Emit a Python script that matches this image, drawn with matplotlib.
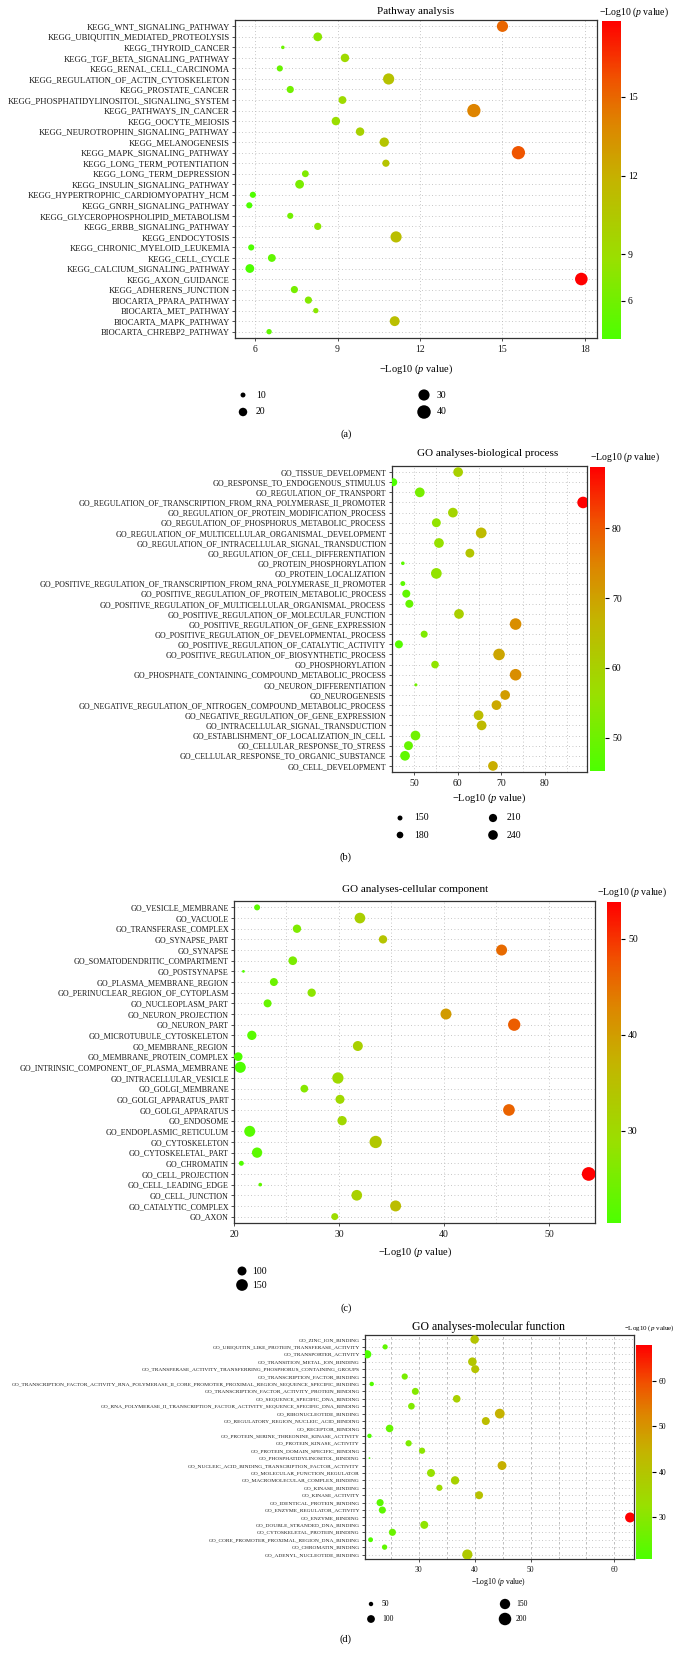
import numpy as np
import matplotlib.pyplot as plt
from matplotlib.colors import LinearSegmentedColormap, Normalize
from matplotlib.cm import ScalarMappable

plt.rcParams['font.family'] = ['Liberation Serif', 'DejaVu Serif']
plt.rcParams['mathtext.fontset'] = 'custom'
plt.rcParams['mathtext.rm'] = 'Liberation Serif'
plt.rcParams['mathtext.it'] = 'Liberation Serif:italic'

# (a) pathway analysis
kegg_terms = ['KEGG_WNT_SIGNALING_PATHWAY', 'KEGG_UBIQUITIN_MEDIATED_PROTEOLYSIS', 'KEGG_THYROID_CANCER',
              'KEGG_TGF_BETA_SIGNALING_PATHWAY', 'KEGG_RENAL_CELL_CARCINOMA', 'KEGG_REGULATION_OF_ACTIN_CYTOSKELETON',
              'KEGG_PROSTATE_CANCER', 'KEGG_PHOSPHATIDYLINOSITOL_SIGNALING_SYSTEM', 'KEGG_PATHWAYS_IN_CANCER',
              'KEGG_OOCYTE_MEIOSIS', 'KEGG_NEUROTROPHIN_SIGNALING_PATHWAY', 'KEGG_MELANOGENESIS',
              'KEGG_MAPK_SIGNALING_PATHWAY', 'KEGG_LONG_TERM_POTENTIATION', 'KEGG_LONG_TERM_DEPRESSION',
              'KEGG_INSULIN_SIGNALING_PATHWAY', 'KEGG_HYPERTROPHIC_CARDIOMYOPATHY_HCM', 'KEGG_GNRH_SIGNALING_PATHWAY',
              'KEGG_GLYCEROPHOSPHOLIPID_METABOLISM', 'KEGG_ERBB_SIGNALING_PATHWAY', 'KEGG_ENDOCYTOSIS',
              'KEGG_CHRONIC_MYELOID_LEUKEMIA', 'KEGG_CELL_CYCLE', 'KEGG_CALCIUM_SIGNALING_PATHWAY',
              'KEGG_AXON_GUIDANCE', 'KEGG_ADHERENS_JUNCTION', 'BIOCARTA_PPARA_PATHWAY', 'BIOCARTA_MET_PATHWAY',
              'BIOCARTA_MAPK_PATHWAY', 'BIOCARTA_CHREBP2_PATHWAY']
kegg_logp = [15.0, 8.28, 7.01, 9.27, 6.90, 10.86, 7.28, 9.18, 13.96, 8.94, 9.82, 10.70, 15.58, 10.76, 7.83,
             7.62, 5.92, 5.79, 7.28, 8.28, 11.13, 5.86, 6.61, 5.81, 17.87, 7.43, 7.94, 8.21, 11.08, 6.51]
kegg_count = [30, 21, 7, 20, 13, 30, 16, 18, 39, 20, 20, 23, 39, 16, 15,
              21, 13, 13, 13, 16, 30, 13, 18, 21, 36, 16, 16, 11, 25, 11]
kegg_legend = [10, 20, 30, 40]

# (b) biological process
bp_terms = ['GO_TISSUE_DEVELOPMENT', 'GO_RESPONSE_TO_ENDOGENOUS_STIMULUS', 'GO_REGULATION_OF_TRANSPORT',
            'GO_REGULATION_OF_TRANSCRIPTION_FROM_RNA_POLYMERASE_II_PROMOTER',
            'GO_REGULATION_OF_PROTEIN_MODIFICATION_PROCESS', 'GO_REGULATION_OF_PHOSPHORUS_METABOLIC_PROCESS',
            'GO_REGULATION_OF_MULTICELLULAR_ORGANISMAL_DEVELOPMENT',
            'GO_REGULATION_OF_INTRACELLULAR_SIGNAL_TRANSDUCTION', 'GO_REGULATION_OF_CELL_DIFFERENTIATION',
            'GO_PROTEIN_PHOSPHORYLATION', 'GO_PROTEIN_LOCALIZATION',
            'GO_POSITIVE_REGULATION_OF_TRANSCRIPTION_FROM_RNA_POLYMERASE_II_PROMOTER',
            'GO_POSITIVE_REGULATION_OF_PROTEIN_METABOLIC_PROCESS',
            'GO_POSITIVE_REGULATION_OF_MULTICELLULAR_ORGANISMAL_PROCESS',
            'GO_POSITIVE_REGULATION_OF_MOLECULAR_FUNCTION', 'GO_POSITIVE_REGULATION_OF_GENE_EXPRESSION',
            'GO_POSITIVE_REGULATION_OF_DEVELOPMENTAL_PROCESS', 'GO_POSITIVE_REGULATION_OF_CATALYTIC_ACTIVITY',
            'GO_POSITIVE_REGULATION_OF_BIOSYNTHETIC_PROCESS', 'GO_PHOSPHORYLATION',
            'GO_PHOSPHATE_CONTAINING_COMPOUND_METABOLIC_PROCESS', 'GO_NEURON_DIFFERENTIATION', 'GO_NEUROGENESIS',
            'GO_NEGATIVE_REGULATION_OF_NITROGEN_COMPOUND_METABOLIC_PROCESS',
            'GO_NEGATIVE_REGULATION_OF_GENE_EXPRESSION', 'GO_INTRACELLULAR_SIGNAL_TRANSDUCTION',
            'GO_ESTABLISHMENT_OF_LOCALIZATION_IN_CELL', 'GO_CELLULAR_RESPONSE_TO_STRESS',
            'GO_CELLULAR_RESPONSE_TO_ORGANIC_SUBSTANCE', 'GO_CELL_DEVELOPMENT']
bp_logp = [60.1, 45.2, 51.3, 88.8, 58.9, 55.1, 65.4, 55.7, 62.8, 47.4, 55.1, 47.4, 48.2, 48.9, 60.3,
           73.3, 52.3, 46.5, 69.5, 54.8, 73.3, 50.4, 70.9, 68.9, 64.8, 65.5, 50.3, 48.7, 47.9, 68.1]
bp_count = [241, 206, 241, 283, 241, 224, 263, 241, 224, 128, 263, 149, 206, 206, 241,
            283, 188, 206, 283, 198, 283, 120, 241, 241, 241, 241, 241, 224, 241, 241]
bp_legend = [150, 180, 210, 240]

# (c) cellular component
cc_terms = ['GO_VESICLE_MEMBRANE', 'GO_VACUOLE', 'GO_TRANSFERASE_COMPLEX', 'GO_SYNAPSE_PART', 'GO_SYNAPSE',
            'GO_SOMATODENDRITIC_COMPARTMENT', 'GO_POSTSYNAPSE', 'GO_PLASMA_MEMBRANE_REGION',
            'GO_PERINUCLEAR_REGION_OF_CYTOPLASM', 'GO_NUCLEOPLASM_PART', 'GO_NEURON_PROJECTION', 'GO_NEURON_PART',
            'GO_MICROTUBULE_CYTOSKELETON', 'GO_MEMBRANE_REGION', 'GO_MEMBRANE_PROTEIN_COMPLEX',
            'GO_INTRINSIC_COMPONENT_OF_PLASMA_MEMBRANE', 'GO_INTRACELLULAR_VESICLE', 'GO_GOLGI_MEMBRANE',
            'GO_GOLGI_APPARATUS_PART', 'GO_GOLGI_APPARATUS', 'GO_ENDOSOME', 'GO_ENDOPLASMIC_RETICULUM',
            'GO_CYTOSKELETON', 'GO_CYTOSKELETAL_PART', 'GO_CHROMATIN', 'GO_CELL_PROJECTION', 'GO_CELL_LEADING_EDGE',
            'GO_CELL_JUNCTION', 'GO_CATALYTIC_COMPLEX', 'GO_AXON']
cc_logp = [22.2, 32.0, 26.0, 34.2, 45.5, 25.6, 20.9, 23.8, 27.4, 23.2, 40.2, 46.7, 21.7, 31.8, 20.4,
           20.6, 29.9, 26.7, 30.1, 46.2, 30.3, 21.5, 33.5, 22.2, 20.7, 53.8, 22.5, 31.7, 35.4, 29.6]
cc_count = [56, 130, 89, 89, 136, 95, 23, 84, 89, 84, 136, 163, 105, 117, 95,
            136, 142, 80, 100, 150, 105, 136, 163, 123, 44, 194, 31, 130, 136, 69]
cc_legend = [100, 150]

# (d) molecular function
mf_terms = ['GO_ZINC_ION_BINDING', 'GO_UBIQUITIN_LIKE_PROTEIN_TRANSFERASE_ACTIVITY', 'GO_TRANSPORTER_ACTIVITY',
            'GO_TRANSITION_METAL_ION_BINDING', 'GO_TRANSFERASE_ACTIVITY_TRANSFERRING_PHOSPHORUS_CONTAINING_GROUPS',
            'GO_TRANSCRIPTION_FACTOR_BINDING',
            'GO_TRANSCRIPTION_FACTOR_ACTIVITY_RNA_POLYMERASE_II_CORE_PROMOTER_PROXIMAL_REGION_SEQUENCE_SPECIFIC_BINDING',
            'GO_TRANSCRIPTION_FACTOR_ACTIVITY_PROTEIN_BINDING', 'GO_SEQUENCE_SPECIFIC_DNA_BINDING',
            'GO_RNA_POLYMERASE_II_TRANSCRIPTION_FACTOR_ACTIVITY_SEQUENCE_SPECIFIC_DNA_BINDING',
            'GO_RIBONUCLEOTIDE_BINDING', 'GO_REGULATORY_REGION_NUCLEIC_ACID_BINDING', 'GO_RECEPTOR_BINDING',
            'GO_PROTEIN_SERINE_THREONINE_KINASE_ACTIVITY', 'GO_PROTEIN_KINASE_ACTIVITY',
            'GO_PROTEIN_DOMAIN_SPECIFIC_BINDING', 'GO_PHOSPHATIDYLINOSITOL_BINDING',
            'GO_NUCLEIC_ACID_BINDING_TRANSCRIPTION_FACTOR_ACTIVITY', 'GO_MOLECULAR_FUNCTION_REGULATOR',
            'GO_MACROMOLECULAR_COMPLEX_BINDING', 'GO_KINASE_BINDING', 'GO_KINASE_ACTIVITY',
            'GO_IDENTICAL_PROTEIN_BINDING', 'GO_ENZYME_REGULATOR_ACTIVITY', 'GO_ENZYME_BINDING',
            'GO_DOUBLE_STRANDED_DNA_BINDING', 'GO_CYTOSKELETAL_PROTEIN_BINDING',
            'GO_CORE_PROMOTER_PROXIMAL_REGION_DNA_BINDING', 'GO_CHROMATIN_BINDING', 'GO_ADENYL_NUCLEOTIDE_BINDING']
mf_logp = [40.0, 24.0, 20.8, 39.6, 40.1, 27.5, 21.6, 29.4, 36.8, 28.7, 44.5, 42.0, 24.8, 21.2, 28.2,
           30.6, 21.2, 44.9, 32.2, 36.5, 33.7, 40.8, 23.1, 23.5, 67.8, 31.0, 25.3, 21.4, 23.9, 38.7]
mf_count = [115, 60, 108, 115, 104, 75, 50, 87, 97, 82, 139, 104, 97, 50, 75,
            75, 23, 121, 104, 111, 75, 104, 89, 89, 143, 104, 89, 56, 62, 147]
mf_legend = [50, 100, 150, 200]

W, H = 696, 1662
XLAB = '\u2212Log10 ($p$ value)'
cmap = LinearSegmentedColormap.from_list(
    'green_red', [(0, '#4dff00'), (0.25, '#99e000'), (0.5, '#c4b400'),
                  (0.68, '#de8400'), (0.82, '#f05200'), (1, '#ff0000')])
GRID = '#b4b4b4'

fig = plt.figure(figsize=(W / 100, H / 100), dpi=100)
over = fig.add_axes([0, 0, 1, 1], zorder=-1)
over.set_xlim(0, W)
over.set_ylim(H, 0)
over.axis('off')


def box(l, t, r, b):
    return [l / W, 1 - b / H, (r - l) / W, (b - t) / H]


def dot_area(counts, a, b):
    # dot diameter grows linearly with sqrt(count), like ggplot's area scale
    d = a + b * np.sqrt(np.asarray(counts, dtype=float))
    return (np.clip(d, 1.0, None) * 0.72) ** 2


def panel(terms, logp, counts, size_ab, ax_px, cb_px, xlim, xticks, xticklabels,
          gridx, cb_ticks, cb_labels, fs, fs_tick, grid_ls):
    ax = fig.add_axes(box(*ax_px))
    n = len(terms)
    rows = np.arange(n)
    norm = Normalize(min(logp), max(logp))
    for gx in gridx:
        ax.axvline(gx, color=GRID, lw=0.6, ls=grid_ls, zorder=1)
    for r in rows:
        ax.axhline(r, color=GRID, lw=0.6, ls=(0, (1, 3)), zorder=1)
    ax.scatter(logp, rows, s=dot_area(counts, *size_ab), c=logp, cmap=cmap, norm=norm,
               edgecolors='none', zorder=3)
    ax.set_xlim(*xlim)
    ax.set_ylim(n - 0.4, -0.6)
    ax.set_yticks(rows, terms, fontsize=fs)
    ax.set_xticks(xticks, xticklabels, fontsize=fs_tick)
    ax.tick_params(length=2.2, width=0.6, pad=1.5, colors='#333333', labelcolor='#1a1a1a')
    ax.tick_params(axis='x', pad=2.5)
    for sp in ax.spines.values():
        sp.set_color('#333333')
        sp.set_linewidth(0.9)
    cax = fig.add_axes(box(*cb_px))
    cb = fig.colorbar(ScalarMappable(norm=norm, cmap=cmap), cax=cax)
    cb.outline.set_visible(False)
    cb.set_ticks(cb_ticks, labels=cb_labels)
    cax.tick_params(length=3, width=0.8, labelsize=fs_tick, pad=2)
    return ax


def size_legend(values, size_ab, cols_x, rows_y, gap, fs):
    for i, v in enumerate(values):
        x = cols_x[i // len(rows_y)]
        y = rows_y[i % len(rows_y)]
        over.scatter([x], [y], s=dot_area([v], *size_ab), color='black', edgecolors='none')
        over.text(x + gap, y, str(v), ha='left', va='center', fontsize=fs)


# (a)
ka = (-3.6, 2.7)
panel(kegg_terms, kegg_logp, kegg_count, ka, (235, 20, 597, 338), (602, 21, 621, 339),
      (5.27, 18.44), [6, 9, 12, 15, 18], ['6', '9', '12', '15', '18'], [6, 9, 12, 15, 18],
      [7.24, 9, 12, 15], ['6', '9', '12', '15'], 6.2, 7, (0, (1, 3)))
over.text(416, 12, 'Pathway analysis', ha='center', va='center', fontsize=8)
over.text(599, 12, XLAB, ha='left', va='center', fontsize=7)
over.text(416, 369, XLAB, ha='center', va='center', fontsize=7.5)
size_legend(kegg_legend, ka, (243, 424), (395, 412), 13, 7)
over.text(346, 434, '(a)', ha='center', va='center', fontsize=7.5)

# (b)
kb = (-12.8, 1.45)
panel(bp_terms, bp_logp, bp_count, kb, (391.5, 466, 587, 772), (590, 467, 605, 771),
      (44.8, 89.7), [50, 60, 70, 80], ['50', '60', '70', '80'], np.arange(45, 90, 5),
      [50, 60, 70, 80], ['50', '60', '70', '80'], 5.8, 7, (0, (1, 3)))
over.text(488, 454, 'GO analyses-biological process', ha='center', va='center', fontsize=8)
over.text(590, 457, XLAB, ha='left', va='center', fontsize=7)
over.text(489, 798, XLAB, ha='center', va='center', fontsize=7.5)
size_legend(bp_legend, kb, (400, 493), (818, 835), 14, 7)
over.text(346, 857, '(b)', ha='center', va='center', fontsize=7.5)

# (c)
kc = (-3.0, 1.2)
panel(cc_terms, cc_logp, cc_count, kc, (234, 901, 595, 1223), (607, 902, 621, 1223),
      (20.0, 54.4), [20, 30, 40, 50], ['20', '30', '40', '50'], np.arange(20, 55, 5),
      [30, 40, 50], ['30', '40', '50'], 5.8, 7, (0, (1, 3)))
over.text(415, 890, 'GO analyses-cellular component', ha='center', va='center', fontsize=8)
over.text(597, 892, XLAB, ha='left', va='center', fontsize=7)
over.text(415, 1252, XLAB, ha='center', va='center', fontsize=7.5)
size_legend(cc_legend, kc, (242,), (1271, 1285), 10, 7)
over.text(346, 1308, '(c)', ha='center', va='center', fontsize=7.5)

# (d)
kd = (-3.7, 1.146)
panel(mf_terms, mf_logp, mf_count, kd, (365, 1335, 634, 1559), (636, 1345, 652, 1559),
      (20.4, 68.5), [30, 40, 50, 65], ['30', '40', '50', '60'], np.arange(25, 70, 5),
      [30, 40, 50, 60], ['30', '40', '50', '60'], 3.9, 5.5, (0, (3, 3)))
over.text(488, 1327, 'GO analyses-molecular function', ha='center', va='center', fontsize=8.5)
over.text(624, 1328, XLAB, ha='left', va='center', fontsize=5)
over.text(499, 1582, XLAB, ha='center', va='center', fontsize=5.5)
size_legend(mf_legend, kd, (371, 505), (1604, 1619), 11, 5.5)
over.text(346, 1639, '(d)', ha='center', va='center', fontsize=7.5)

fig.savefig('out.png', dpi=100)
